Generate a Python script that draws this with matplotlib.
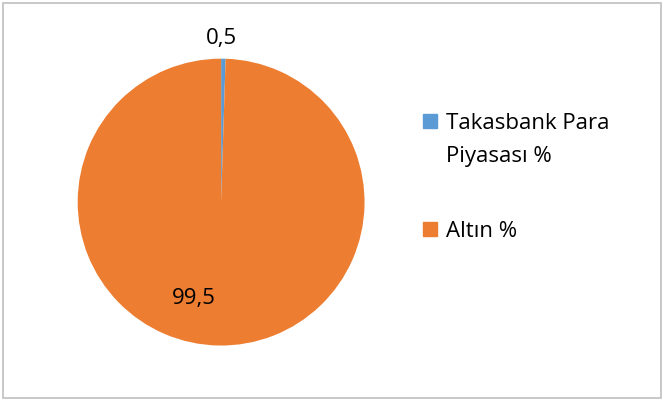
import matplotlib.pyplot as plt
from matplotlib.patches import Rectangle

labels = ["Takasbank Para\nPiyasası %", "Altın %"]
values = [0.5, 99.5]
colors = ["#5B9BD5", "#ED7D31"]

plt.rcParams["font.family"] = ["Open Sans", "DejaVu Sans"]

W, H = 664, 401
fig = plt.figure(figsize=(W / 100, H / 100), dpi=100)
ax = fig.add_axes([0.117, 0.138, 0.432, 0.716])
wedges, _ = ax.pie(values, colors=colors, startangle=90, counterclock=False,
                   wedgeprops=dict(linewidth=0))
ax.set_xlim(-1, 1)
ax.set_ylim(-1, 1)
ax.set_aspect("equal")

fmt = lambda v: f"{v:.1f}".replace(".", ",")
ax.text(0.0, 1.14, fmt(values[0]), ha="center", va="center", fontsize=16)
ax.text(-0.19, -0.675, fmt(values[1]), ha="center", va="center", fontsize=16)

# legend drawn by hand (pixel positions from the top-left corner)
def px(x, y):
    return x / W, 1 - y / H

base = 129
for lab, col in zip(labels, colors):
    lines = lab.split("\n")
    x0, y0 = px(423, base - 15)
    fig.patches.append(Rectangle((x0, y0 - 14 / H), 14 / W, 14 / H,
                                 transform=fig.transFigure, color=col))
    for i, line in enumerate(lines):
        fig.text(*px(446, base + 33 * i), line, fontsize=16, va="baseline")
    base += 33 * (len(lines) - 1) + 108 - 33

fig.patches.append(Rectangle((3 / W, 3 / H), 658 / W, 395 / H,
                             transform=fig.transFigure, fill=False,
                             edgecolor="#BFBFBF", linewidth=1.2))

fig.savefig("out.png", dpi=100)
